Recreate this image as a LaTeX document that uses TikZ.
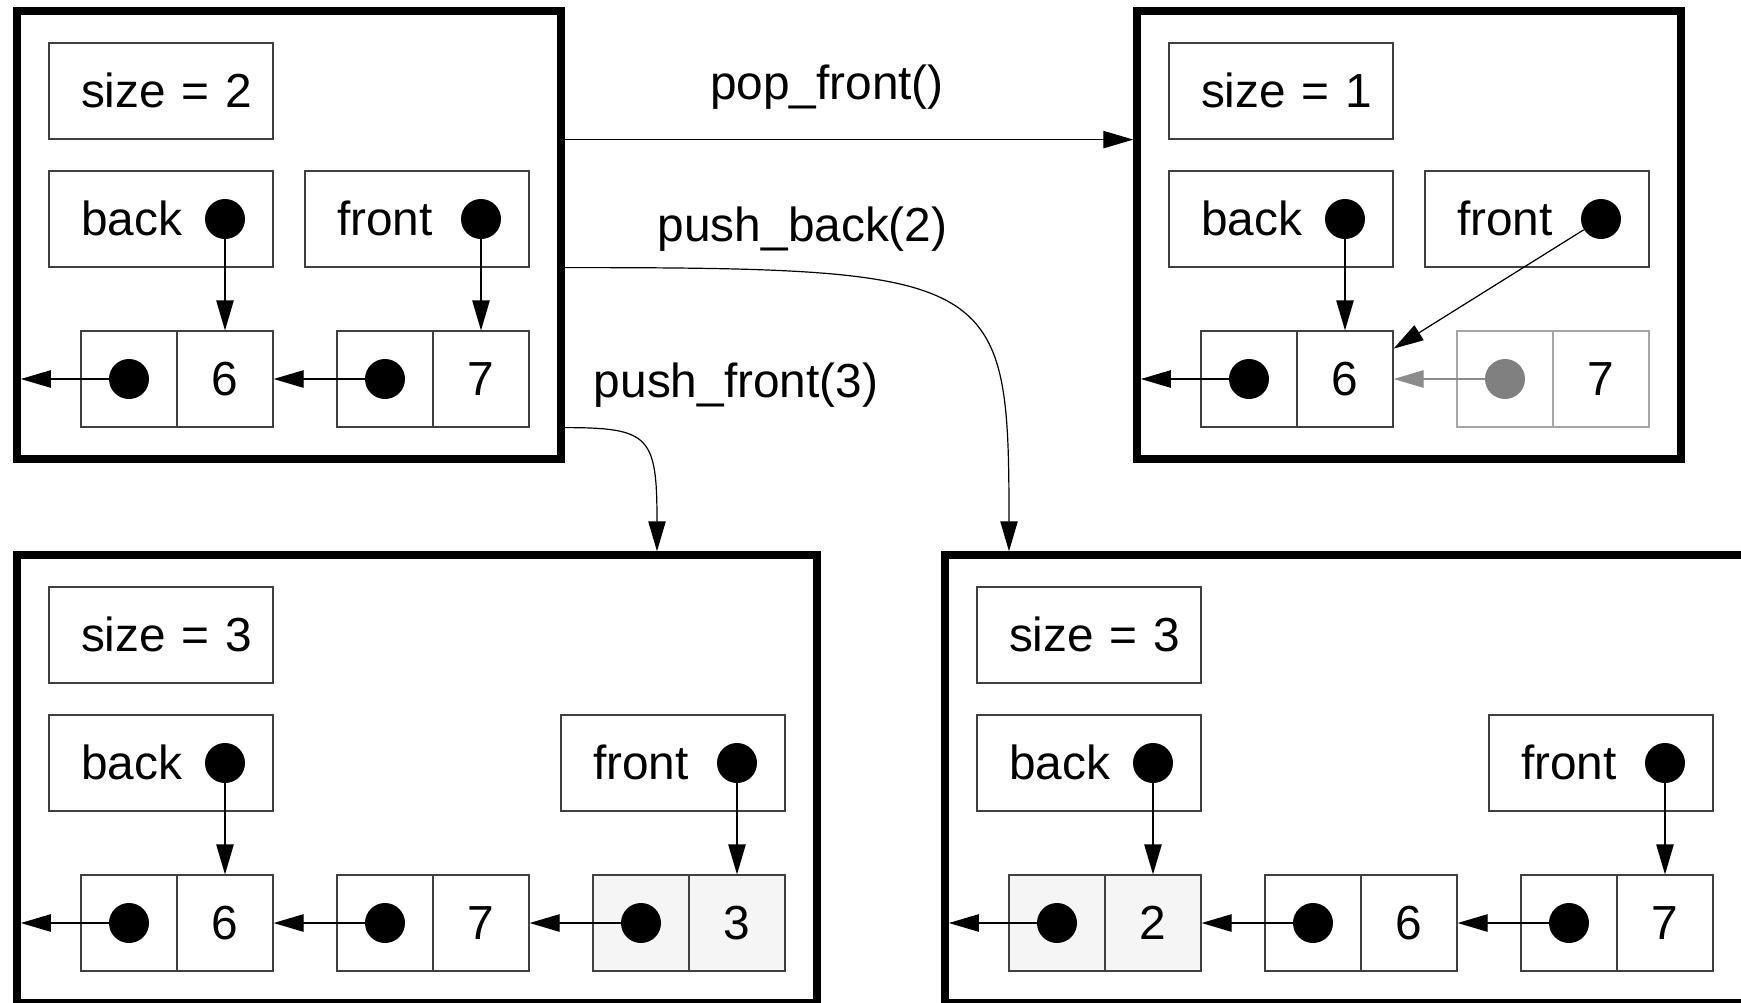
\documentclass[tikz,border=0pt]{standalone}
\usepackage{fontspec}
\setmainfont{Liberation Sans}
\usetikzlibrary{arrows.meta,calc}
\begin{document}
\begin{tikzpicture}[x=16pt,y=-16pt,
  every node/.style={font=\fontsize{23.9}{28}\selectfont},
  listbox/.style={draw=black, line width=3.75pt, inner sep=0pt},
  fieldbox/.style={draw=black!75, line width=0.6pt, minimum width=112pt, minimum height=48pt,
    inner xsep=16pt, inner ysep=0pt, text width=80pt, align=left, text height=16pt, text depth=0pt},
  cellbox/.style={draw=black!75, line width=0.6pt, minimum size=48pt, inner sep=0pt,
    text height=16pt, text depth=0pt},
  newcell/.style={cellbox, fill=black!4},
  oldcell/.style={cellbox, draw=black!35},
  ptrdot/.style={circle, fill=black, minimum size=20pt, inner sep=0pt},
  oldptrdot/.style={ptrdot, fill=black!50},
  linkarrow/.style={draw=black, line width=0.6pt, -{Triangle[length=15pt,width=8.7pt]}},
  oldlinkarrow/.style={linkarrow, draw=black!45},
  oplabel/.style={anchor=base, inner sep=0pt}
]
\useasboundingbox (-0.53125,-0.34375) rectangle (53.875,30.96875);
\clip (-0.53125,-0.34375) rectangle (53.875,30.96875);
\fill[white] (-0.53125,-0.34375) rectangle (53.875,30.96875);

% ---- list with two elements ----
\node[listbox, minimum width=272pt, minimum height=224pt] (f1) at (8.5,7) {};
\node[fieldbox] (f1size) at (4.5,2.5) {\mbox{size = 2}};
\node[fieldbox] (f1back) at (4.5,6.5) {back};
\node[fieldbox] (f1front) at (12.5,6.5) {front};
\node[cellbox] (f1n1p) at (3.5,11.5) {};
\node[cellbox] (f1n1v) at (6.5,11.5) {6};
\node[cellbox] (f1n2p) at (11.5,11.5) {};
\node[cellbox] (f1n2v) at (14.5,11.5) {7};
\node[ptrdot] (f1backdot) at (6.5,6.5) {};
\node[ptrdot] (f1frontdot) at (14.5,6.5) {};
\node[ptrdot] (f1n1dot) at (3.5,11.5) {};
\node[ptrdot] (f1n2dot) at (11.5,11.5) {};
\coordinate (f1end) at (0.12,11.5);
\draw[linkarrow] (f1backdot) -- (f1n1v);
\draw[linkarrow] (f1frontdot) -- (f1n2v);
\draw[linkarrow] (f1n1dot) -- (f1end);
\draw[linkarrow] (f1n2dot) -- (f1n1v);

% ---- after pop_front() ----
\node[listbox, minimum width=272pt, minimum height=224pt] (f2) at (43.5,7) {};
\node[fieldbox] (f2size) at (39.5,2.5) {\mbox{size = 1}};
\node[fieldbox] (f2back) at (39.5,6.5) {back};
\node[fieldbox] (f2front) at (47.5,6.5) {front};
\node[cellbox] (f2n1p) at (38.5,11.5) {};
\node[cellbox] (f2n1v) at (41.5,11.5) {6};
\node[oldcell] (f2n2p) at (46.5,11.5) {};
\node[oldcell] (f2n2v) at (49.5,11.5) {7};
\node[ptrdot] (f2backdot) at (41.5,6.5) {};
\node[ptrdot] (f2frontdot) at (49.5,6.5) {};
\node[ptrdot] (f2n1dot) at (38.5,11.5) {};
\node[oldptrdot] (f2n2dot) at (46.5,11.5) {};
\coordinate (f2end) at (35.12,11.5);
\draw[linkarrow] (f2backdot) -- (f2n1v);
\draw[linkarrow] (f2frontdot) -- (f2n1v);
\draw[linkarrow] (f2n1dot) -- (f2end);
\draw[oldlinkarrow] (f2n2dot) -- (f2n1v);

% ---- after push_front(3) ----
\node[listbox, minimum width=400pt, minimum height=224pt] (f3) at (12.5,24) {};
\node[fieldbox] (f3size) at (4.5,19.5) {\mbox{size = 3}};
\node[fieldbox] (f3back) at (4.5,23.5) {back};
\node[fieldbox] (f3front) at (20.5,23.5) {front};
\node[cellbox] (f3n1p) at (3.5,28.5) {};
\node[cellbox] (f3n1v) at (6.5,28.5) {6};
\node[cellbox] (f3n2p) at (11.5,28.5) {};
\node[cellbox] (f3n2v) at (14.5,28.5) {7};
\node[newcell] (f3n3p) at (19.5,28.5) {};
\node[newcell] (f3n3v) at (22.5,28.5) {3};
\node[ptrdot] (f3backdot) at (6.5,23.5) {};
\node[ptrdot] (f3frontdot) at (22.5,23.5) {};
\node[ptrdot] (f3n1dot) at (3.5,28.5) {};
\node[ptrdot] (f3n2dot) at (11.5,28.5) {};
\node[ptrdot] (f3n3dot) at (19.5,28.5) {};
\coordinate (f3end) at (0.12,28.5);
\draw[linkarrow] (f3backdot) -- (f3n1v);
\draw[linkarrow] (f3frontdot) -- (f3n3v);
\draw[linkarrow] (f3n1dot) -- (f3end);
\draw[linkarrow] (f3n2dot) -- (f3n1v);
\draw[linkarrow] (f3n3dot) -- (f3n2v);

% ---- after push_back(2) ----
\node[listbox, minimum width=400pt, minimum height=224pt] (f4) at (41.5,24) {};
\node[fieldbox] (f4size) at (33.5,19.5) {\mbox{size = 3}};
\node[fieldbox] (f4back) at (33.5,23.5) {back};
\node[fieldbox] (f4front) at (49.5,23.5) {front};
\node[newcell] (f4n1p) at (32.5,28.5) {};
\node[newcell] (f4n1v) at (35.5,28.5) {2};
\node[cellbox] (f4n2p) at (40.5,28.5) {};
\node[cellbox] (f4n2v) at (43.5,28.5) {6};
\node[cellbox] (f4n3p) at (48.5,28.5) {};
\node[cellbox] (f4n3v) at (51.5,28.5) {7};
\node[ptrdot] (f4backdot) at (35.5,23.5) {};
\node[ptrdot] (f4frontdot) at (51.5,23.5) {};
\node[ptrdot] (f4n1dot) at (32.5,28.5) {};
\node[ptrdot] (f4n2dot) at (40.5,28.5) {};
\node[ptrdot] (f4n3dot) at (48.5,28.5) {};
\coordinate (f4end) at (29.12,28.5);
\draw[linkarrow] (f4backdot) -- (f4n1v);
\draw[linkarrow] (f4frontdot) -- (f4n3v);
\draw[linkarrow] (f4n1dot) -- (f4end);
\draw[linkarrow] (f4n2dot) -- (f4n1v);
\draw[linkarrow] (f4n3dot) -- (f4n2v);

% ---- operations ----
\draw[linkarrow] (f1.east |- f1size.south) -- (f2.west |- f1size.south);
\draw[linkarrow] (f1.east |- f1back.south) .. controls +(13.6,0) and +(0,-8.6) .. ($(f4.north)+(-10.5,0)$);
\draw[linkarrow] (f1.east |- f1n1p.south) .. controls +(2.66,0) and +(0,-3.6) .. ($(f3.north)+(7.5,0)$);
\node[oplabel] (oppop) at (25.31,2.75) {pop\_front()};
\node[oplabel] (oppushback) at (24.55,7.2) {push\_back(2)};
\node[oplabel] (oppushfront) at (22.47,12.08) {push\_front(3)};
\end{tikzpicture}
\end{document}
